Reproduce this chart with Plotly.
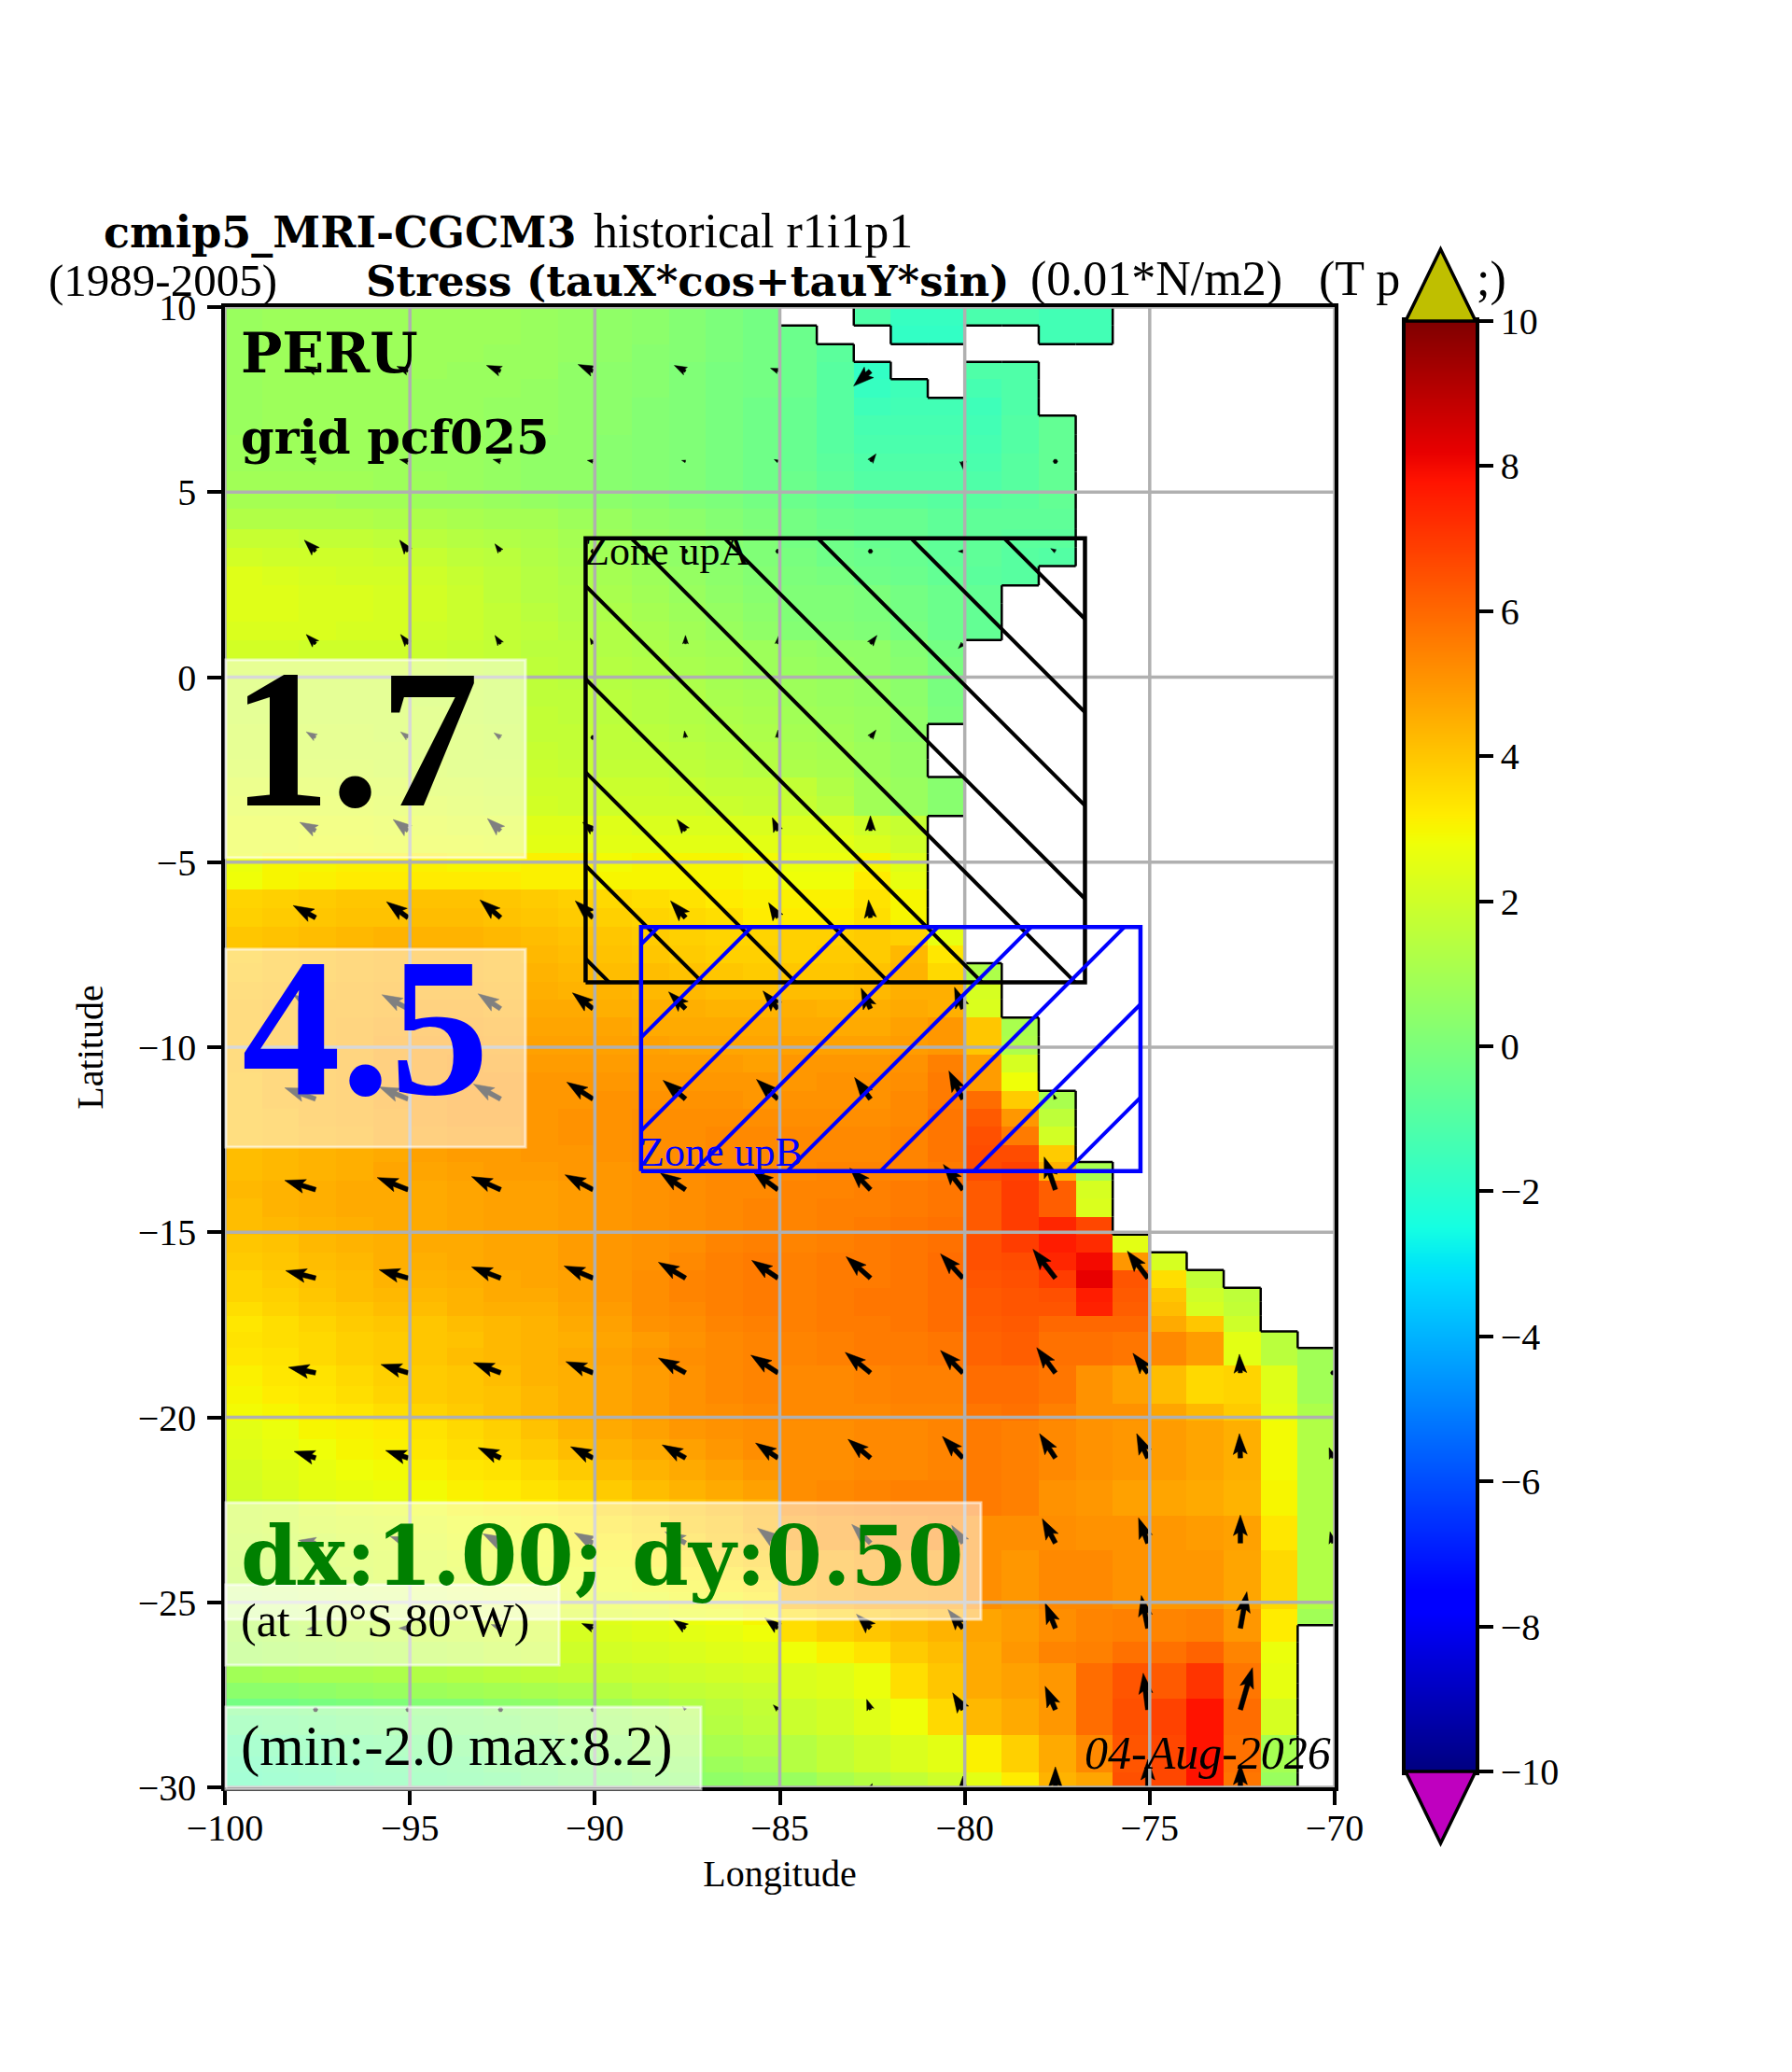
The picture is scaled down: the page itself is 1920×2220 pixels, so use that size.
import math
import numpy as np
import plotly.graph_objects as go

_ = None

# cell edges of the stress field
lon_edges = list(range(-100, -69))
lat_edges = [10, 9.5, 9.0, 8.52, 8.05, 7.55, 7.07, 6.55, 6.05, 5.55, 5.05, 4.55, 4.0, 3.5, 3.0,
             2.48, 2.0, 1.5, 1.0, 0.55, 0.1, -0.35, -0.8, -1.27, -1.75, -2.22, -2.7, -3.22, -3.75,
             -4.27, -4.76, -5.25, -5.74, -6.24, -6.74, -7.24, -7.73, -8.23, -8.71, -9.2, -9.7,
             -10.19, -10.68, -11.18, -11.67, -12.15, -12.65, -13.1, -13.6, -14.09, -14.58, -15.06,
             -15.54, -16.02, -16.5, -16.88, -17.26, -17.68, -18.13, -18.6, -19.15, -19.64, -20.1,
             -20.6, -21.15, -21.7, -22.2, -22.65, -23.15, -23.6, -24.05, -24.4, -24.72, -25.18,
             -25.62, -26.07, -26.65, -27.18, -27.6, -28.05, -28.6, -29.17, -29.6, -30]

# wind stress, 0.01 N/m2, north to south, None on land
stress = [
 [.7,.8,.8,.8,.8,.8,.8,.8,.7,.6,.5,.4,.2,.0,-.2,_,_,-1.1,-1.7,-1.7,-1.2,-1.2,-1.4,-1.4,_,_,_,_,_,_],
 [.7,.8,.8,.8,.8,.8,.8,.8,.7,.6,.5,.4,.2,.0,-.2,-.4,_,_,-1.8,-1.8,_,_,-1.4,-1.4,_,_,_,_,_,_],
 [.7,.8,.8,.8,.8,.8,.8,.7,.7,.6,.5,.3,.2,.0,-.2,-.4,-.8,_,_,_,_,_,_,_,_,_,_,_,_,_],
 [.7,.8,.8,.8,.8,.8,.7,.7,.7,.5,.4,.3,.1,-.1,-.2,-.4,-.9,-1.8,_,_,-1.1,-1.1,_,_,_,_,_,_,_,_],
 [.7,.8,.8,.8,.8,.7,.7,.7,.6,.5,.4,.3,.1,-.1,-.2,-.4,-.9,-1.7,-1.5,_,-1.3,-1.1,_,_,_,_,_,_,_,_],
 [.7,.8,.8,.8,.8,.7,.7,.6,.6,.5,.4,.2,.1,-.1,-.3,-.5,-.9,-1.5,-1.4,-1.4,-1.5,-1.1,_,_,_,_,_,_,_,_],
 [.7,.8,.8,.8,.8,.7,.7,.6,.6,.5,.4,.2,.1,-.1,-.3,-.5,-.9,-1.3,-1.3,-1.3,-1.4,-1.0,-.6,_,_,_,_,_,_,_],
 [.8,.8,.8,.8,.8,.7,.7,.6,.5,.5,.3,.2,.1,-.1,-.3,-.5,-.9,-1.2,-1.2,-1.2,-1.3,-1.0,-.6,_,_,_,_,_,_,_],
 [.8,.8,.8,.8,.8,.7,.7,.6,.5,.5,.3,.2,.1,-.1,-.3,-.5,-.8,-1.1,-1.1,-1.1,-1.2,-.9,-.6,_,_,_,_,_,_,_],
 [.9,.9,.9,.9,.8,.8,.7,.6,.5,.5,.3,.2,.1,-.1,-.3,-.4,-.7,-1.0,-1.0,-1.0,-1.1,-.9,-.6,_,_,_,_,_,_,_],
 [1.0,1.0,1.0,.9,.9,.8,.8,.7,.6,.5,.4,.3,.1,.0,-.2,-.4,-.6,-.8,-.8,-.9,-.9,-.8,-.6,_,_,_,_,_,_,_],
 [1.3,1.3,1.3,1.3,1.2,1.2,1.1,1.0,1.0,.8,.7,.5,.4,.2,.0,-.2,-.4,-.5,-.5,-.7,-.7,-.7,-.7,_,_,_,_,_,_,_],
 [1.8,1.8,1.7,1.7,1.6,1.5,1.4,1.3,1.2,1.0,.8,.6,.5,.3,.1,-.2,-.3,-.5,-.5,-.7,-.7,-.8,-.8,_,_,_,_,_,_,_],
 [2.1,2.0,2.0,2.0,1.9,1.8,1.6,1.5,1.3,1.1,.9,.7,.5,.3,.1,-.1,-.3,-.4,-.5,-.7,-.7,-.9,-1.0,_,_,_,_,_,_,_],
 [2.4,2.3,2.2,2.1,2.1,2.0,1.8,1.6,1.4,1.2,1.0,.8,.6,.4,.2,.0,-.1,-.3,-.4,-.6,-.8,-.9,_,_,_,_,_,_,_,_],
 [2.4,2.4,2.3,2.3,2.2,2.1,1.9,1.6,1.4,1.3,1.1,.9,.7,.5,.3,.1,.1,.0,-.2,-.4,-.6,_,_,_,_,_,_,_,_,_],
 [2.4,2.4,2.3,2.3,2.2,2.1,1.9,1.7,1.5,1.3,1.2,1.0,.8,.6,.4,.1,.1,.0,-.2,-.4,-.6,_,_,_,_,_,_,_,_,_],
 [2.3,2.3,2.3,2.2,2.2,2.0,1.9,1.7,1.6,1.4,1.3,1.1,.9,.7,.5,.2,.2,.1,-.1,-.4,-.6,_,_,_,_,_,_,_,_,_],
 [2.1,2.1,2.0,2.0,2.0,1.9,1.8,1.7,1.5,1.5,1.3,1.2,1.0,.9,.8,.6,.5,.5,.2,-.2,_,_,_,_,_,_,_,_,_,_],
 [2.0,2.0,2.0,2.0,2.0,1.9,1.8,1.7,1.6,1.5,1.4,1.3,1.1,1.0,.8,.7,.6,.5,.3,-.1,_,_,_,_,_,_,_,_,_,_],
 [1.9,1.9,1.9,1.9,1.9,1.8,1.8,1.7,1.6,1.5,1.4,1.3,1.2,1.0,.9,.8,.7,.6,.4,-.1,_,_,_,_,_,_,_,_,_,_],
 [1.9,1.9,1.9,1.9,1.9,1.8,1.8,1.7,1.6,1.6,1.5,1.4,1.3,1.1,1.0,.8,.7,.6,.4,-.1,_,_,_,_,_,_,_,_,_,_],
 [1.9,1.9,1.9,1.9,1.9,1.9,1.8,1.7,1.7,1.6,1.5,1.4,1.3,1.2,1.1,.9,.8,.7,.5,.0,_,_,_,_,_,_,_,_,_,_],
 [2.0,2.0,2.0,2.0,1.9,1.9,1.9,1.8,1.7,1.7,1.6,1.5,1.4,1.3,1.2,1.0,.9,.7,.5,_,_,_,_,_,_,_,_,_,_,_],
 [2.0,2.0,2.0,2.0,2.0,1.9,1.9,1.8,1.8,1.7,1.6,1.6,1.5,1.4,1.3,1.1,1.0,.8,.6,_,_,_,_,_,_,_,_,_,_,_],
 [2.1,2.1,2.1,2.1,2.0,2.0,1.9,1.9,1.9,1.8,1.7,1.7,1.6,1.5,1.4,1.2,1.1,.8,.6,_,_,_,_,_,_,_,_,_,_,_],
 [2.3,2.3,2.3,2.2,2.2,2.1,2.1,2.0,2.0,2.0,1.9,1.9,1.8,1.7,1.7,1.7,1.3,.9,.7,.3,_,_,_,_,_,_,_,_,_,_],
 [2.4,2.4,2.4,2.4,2.3,2.3,2.2,2.1,2.1,2.0,2.0,2.0,2.0,1.9,1.8,1.8,1.5,.9,.7,.3,_,_,_,_,_,_,_,_,_,_],
 [2.6,2.6,2.6,2.6,2.5,2.5,2.4,2.4,2.4,2.4,2.4,2.3,2.3,2.3,2.3,2.3,2.3,2.0,1.8,_,_,_,_,_,_,_,_,_,_,_],
 [2.6,2.6,2.7,2.7,2.6,2.6,2.6,2.5,2.5,2.5,2.5,2.5,2.5,2.5,2.5,2.5,2.5,2.3,2.0,_,_,_,_,_,_,_,_,_,_,_],
 [2.7,3.0,3.0,3.1,3.1,3.1,3.0,3.0,3.1,3.1,2.9,3.0,3.0,3.0,2.9,2.7,2.7,3.0,2.4,_,_,_,_,_,_,_,_,_,_,_],
 [2.8,3.0,3.1,3.2,3.2,3.2,3.2,3.2,3.1,3.1,3.0,3.0,3.0,3.0,2.9,2.8,2.8,3.2,2.6,_,_,_,_,_,_,_,_,_,_,_],
 [3.7,3.8,3.9,4.0,4.0,4.1,4.1,4.0,3.9,3.8,3.6,3.5,3.4,3.2,3.1,3.1,3.1,3.4,3.0,_,_,_,_,_,_,_,_,_,_,_],
 [3.8,3.9,4.0,4.1,4.1,4.2,4.2,4.1,4.0,3.9,3.8,3.7,3.6,3.5,3.2,3.2,3.2,3.5,3.0,_,_,_,_,_,_,_,_,_,_,_],
 [4.0,4.1,4.2,4.3,4.4,4.4,4.4,4.3,4.2,4.1,4.0,3.9,3.8,3.7,3.7,3.8,3.8,3.9,3.8,2.6,_,_,_,_,_,_,_,_,_,_],
 [4.0,4.2,4.3,4.4,4.5,4.5,4.5,4.4,4.3,4.2,4.1,4.0,3.9,3.8,3.8,3.8,3.9,3.9,4.3,3.3,_,_,_,_,_,_,_,_,_,_],
 [4.1,4.2,4.3,4.4,4.5,4.6,4.5,4.4,4.4,4.3,4.2,4.2,4.1,4.0,3.9,4.0,4.0,4.1,4.4,3.6,1.2,_,_,_,_,_,_,_,_,_],
 [4.2,4.3,4.4,4.5,4.6,4.6,4.6,4.5,4.5,4.4,4.4,4.3,4.3,4.2,4.2,4.2,4.2,4.3,4.5,4.5,2.2,_,_,_,_,_,_,_,_,_],
 [4.3,4.4,4.5,4.5,4.6,4.7,4.7,4.6,4.6,4.6,4.5,4.5,4.5,4.4,4.4,4.5,4.4,4.5,4.6,4.5,2.3,_,_,_,_,_,_,_,_,_],
 [4.3,4.4,4.5,4.6,4.7,4.8,4.8,4.7,4.7,4.7,4.7,4.6,4.6,4.6,4.6,4.6,4.6,4.6,4.8,5.0,4.0,1.1,_,_,_,_,_,_,_,_],
 [4.3,4.4,4.5,4.6,4.8,4.9,4.9,4.8,4.8,4.8,4.8,4.8,4.7,4.7,4.7,4.8,4.8,4.8,4.9,5.0,4.0,1.2,_,_,_,_,_,_,_,_],
 [4.3,4.4,4.5,4.6,4.8,4.9,5.0,4.9,4.9,4.9,4.9,4.9,4.9,4.9,4.8,5.0,5.0,5.0,5.1,5.5,4.9,2.2,_,_,_,_,_,_,_,_],
 [4.2,4.4,4.5,4.6,4.8,4.9,5.0,5.0,5.0,5.0,5.0,5.0,5.0,5.0,5.0,5.0,5.1,5.1,5.2,5.6,4.9,2.8,_,_,_,_,_,_,_,_],
 [4.2,4.4,4.5,4.6,4.8,4.9,5.0,5.0,5.0,5.0,5.1,5.1,5.1,5.1,5.0,5.1,5.1,5.1,5.3,5.6,5.9,3.9,1.1,_,_,_,_,_,_,_],
 [4.2,4.3,4.5,4.6,4.7,4.9,5.0,5.0,5.0,5.1,5.1,5.2,5.2,5.2,5.2,5.2,5.2,5.2,5.3,5.7,6.3,5.0,1.6,_,_,_,_,_,_,_],
 [4.2,4.3,4.4,4.5,4.7,4.8,4.9,4.9,5.0,5.1,5.1,5.2,5.2,5.3,5.3,5.3,5.3,5.3,5.4,5.7,6.5,5.6,2.1,_,_,_,_,_,_,_],
 [4.2,4.3,4.4,4.5,4.6,4.8,4.9,4.9,5.0,5.0,5.1,5.2,5.2,5.3,5.3,5.3,5.3,5.3,5.4,5.7,6.6,6.6,3.9,_,_,_,_,_,_,_],
 [4.2,4.3,4.4,4.5,4.7,4.7,4.8,4.9,4.9,5.0,5.0,5.1,5.2,5.3,5.3,5.3,5.4,5.4,5.4,5.6,6.6,6.8,4.4,1.1,_,_,_,_,_,_],
 [4.3,4.4,4.5,4.6,4.6,4.6,4.7,4.8,4.8,4.9,5.0,5.1,5.2,5.3,5.3,5.4,5.4,5.5,5.6,5.7,6.3,6.9,6.2,2.2,_,_,_,_,_,_],
 [4.2,4.4,4.5,4.6,4.6,4.6,4.7,4.8,4.8,4.9,5.0,5.1,5.2,5.3,5.4,5.4,5.5,5.5,5.6,5.7,6.3,6.9,6.2,2.3,_,_,_,_,_,_],
 [4.2,4.3,4.4,4.5,4.6,4.6,4.7,4.8,4.8,4.9,5.0,5.1,5.2,5.3,5.4,5.4,5.5,5.6,5.7,5.8,6.3,6.9,7.4,6.7,_,_,_,_,_,_],
 [4.0,4.1,4.3,4.4,4.5,4.6,4.6,4.7,4.7,4.9,5.0,5.1,5.2,5.4,5.5,5.4,5.5,5.6,5.7,5.8,6.5,6.9,7.6,7.3,2.5,_,_,_,_,_],
 [3.9,4.0,4.2,4.3,4.5,4.5,4.6,4.7,4.7,4.9,5.0,5.1,5.3,5.5,5.6,5.5,5.6,5.6,5.7,5.9,6.5,6.6,7.4,8.0,5.0,2.2,_,_,_,_],
 [3.7,3.9,4.1,4.2,4.4,4.4,4.5,4.6,4.7,4.8,5.0,5.2,5.4,5.5,5.6,5.5,5.6,5.6,5.7,5.9,6.4,6.5,6.9,8.2,6.4,3.5,1.7,_,_,_],
 [3.7,3.8,4.0,4.2,4.3,4.3,4.4,4.6,4.6,4.8,5.0,5.2,5.4,5.5,5.6,5.5,5.6,5.7,5.7,5.9,6.3,6.4,6.5,7.6,6.3,4.0,2.0,1.6,_,_],
 [3.5,3.7,3.9,4.0,4.2,4.2,4.4,4.5,4.5,4.7,4.9,5.2,5.3,5.5,5.6,5.5,5.6,5.7,5.7,5.9,6.3,6.4,6.4,7.5,6.2,4.2,2.2,1.7,_,_],
 [3.3,3.5,3.7,3.9,4.0,4.0,4.2,4.3,4.4,4.6,4.8,5.1,5.2,5.4,5.5,5.5,5.6,5.6,5.7,5.9,6.2,6.3,6.0,6.0,6.0,4.6,4.0,2.0,_,_],
 [3.4,3.5,3.6,3.8,3.9,4.0,4.1,4.3,4.4,4.5,4.7,4.9,5.1,5.3,5.4,5.4,5.5,5.6,5.6,5.7,6.1,6.2,5.8,5.8,5.7,5.3,4.9,2.5,1.5,_],
 [3.3,3.4,3.6,3.8,3.9,4.0,4.2,4.3,4.4,4.6,4.8,5.0,5.2,5.3,5.4,5.4,5.5,5.6,5.6,5.7,6.1,6.2,5.8,5.8,5.7,5.3,4.9,2.5,1.5,.9],
 [3.1,3.3,3.4,3.6,3.8,3.9,4.0,4.2,4.4,4.5,4.7,4.9,5.1,5.3,5.4,5.3,5.3,5.4,5.5,5.5,5.9,5.9,5.7,5.1,4.8,4.2,3.6,3.7,2.4,.9],
 [3.0,3.2,3.3,3.5,3.7,3.9,4.0,4.1,4.3,4.5,4.7,4.9,5.1,5.3,5.4,5.3,5.3,5.4,5.5,5.5,5.9,5.9,5.7,5.1,4.8,4.2,3.6,3.7,2.4,.9],
 [2.9,3.0,3.2,3.3,3.5,3.7,3.9,4.1,4.3,4.5,4.7,4.9,5.1,5.2,5.3,5.3,5.3,5.3,5.4,5.4,5.7,5.8,5.5,5.1,5.1,4.7,4.3,3.9,2.5,1.2],
 [2.5,2.7,3.0,3.1,3.2,3.4,3.6,3.8,4.1,4.4,4.6,4.8,5.0,5.1,5.2,5.2,5.2,5.3,5.3,5.4,5.6,5.5,5.3,5.1,5.0,4.9,4.7,4.5,2.9,1.3],
 [2.4,2.6,2.8,3.0,3.1,3.3,3.5,3.7,3.9,4.2,4.4,4.6,4.8,5.0,5.2,5.2,5.2,5.3,5.3,5.4,5.6,5.5,5.3,5.1,5.0,4.9,4.7,4.5,2.9,1.3],
 [2.2,2.4,2.6,2.8,2.9,3.1,3.3,3.4,3.6,3.9,4.2,4.4,4.6,4.8,5.0,5.2,5.2,5.3,5.3,5.4,5.6,5.5,5.3,5.1,5.0,4.9,4.7,4.5,2.9,1.3],
 [2.1,2.3,2.5,2.6,2.7,2.9,3.1,3.2,3.4,3.6,3.9,4.2,4.4,4.6,4.8,5.2,5.3,5.4,5.5,5.5,5.6,5.5,5.1,5.0,4.8,4.7,4.6,4.4,3.0,1.3],
 [1.9,2.0,2.3,2.5,2.6,2.8,3.0,3.1,3.2,3.4,3.7,3.9,4.1,4.3,4.5,5.2,5.3,5.4,5.5,5.5,5.6,5.5,5.1,5.0,4.8,4.7,4.6,4.4,3.0,1.3],
 [1.9,2.0,2.2,2.3,2.4,2.6,2.8,2.9,3.0,3.2,3.4,3.6,3.9,4.1,4.4,4.9,5.0,5.1,5.2,5.3,5.2,5.2,5.2,5.1,5.1,5.0,4.9,4.8,3.3,1.3],
 [1.8,1.9,2.0,2.2,2.3,2.5,2.7,2.8,2.9,3.1,3.2,3.5,3.7,4.0,4.2,4.9,5.0,5.1,5.2,5.3,5.2,5.2,5.2,5.1,5.1,5.0,4.9,4.8,3.3,1.3],
 [1.7,1.8,1.9,2.1,2.2,2.3,2.5,2.6,2.8,2.9,3.0,3.2,3.4,3.7,3.9,4.4,4.6,4.8,4.8,4.9,5.2,5.0,5.3,5.3,5.1,5.0,5.0,4.7,3.6,1.3],
 [1.6,1.7,1.9,2.0,2.2,2.3,2.4,2.5,2.7,2.8,2.9,3.0,3.2,3.4,3.7,4.4,4.6,4.8,4.8,4.9,5.2,5.0,5.3,5.3,5.1,5.0,5.0,4.7,3.6,1.3],
 [1.5,1.6,1.8,1.9,2.0,2.1,2.3,2.4,2.5,2.6,2.8,2.9,3.0,3.2,3.4,4.4,4.6,4.8,4.8,4.9,5.2,5.0,5.3,5.3,5.1,5.0,5.0,4.7,3.6,1.3],
 [1.4,1.5,1.7,1.8,1.9,2.0,2.2,2.3,2.4,2.5,2.6,2.7,2.9,3.0,3.2,4.4,4.6,4.8,4.8,4.9,5.2,5.0,5.3,5.3,5.1,5.0,5.0,4.7,3.6,1.3],
 [1.3,1.4,1.5,1.7,1.8,1.9,2.0,2.1,2.2,2.3,2.4,2.5,2.7,2.8,3.0,3.5,3.8,4.0,4.2,4.4,4.7,4.9,5.2,5.4,5.5,5.4,5.5,5.0,3.2,.9],
 [1.2,1.3,1.4,1.6,1.7,1.8,1.9,2.0,2.1,2.2,2.3,2.4,2.5,2.6,2.8,3.5,3.8,4.0,4.2,4.4,4.7,4.9,5.2,5.4,5.5,5.4,5.5,5.0,3.2,_],
 [1.0,1.1,1.2,1.3,1.4,1.5,1.6,1.8,1.9,2.0,2.1,2.2,2.3,2.4,2.5,2.8,3.1,3.4,3.9,4.2,4.6,5.0,5.4,5.5,5.8,5.8,6.1,5.4,2.7,_],
 [.9,1.0,1.1,1.1,1.2,1.3,1.4,1.5,1.6,1.7,1.8,1.9,2.0,2.1,2.2,2.3,2.4,2.7,3.5,4.0,4.6,4.8,5.0,5.9,6.4,6.3,7.1,5.7,2.6,_],
 [.4,.4,.5,.6,.7,.8,.9,1.0,1.1,1.2,1.4,1.6,1.7,1.8,1.9,2.3,2.4,2.7,3.5,4.0,4.6,4.8,5.0,5.9,6.4,6.3,7.1,5.7,2.6,_],
 [-.2,-.2,-.1,.0,.1,.2,.2,.4,.5,.7,.9,1.1,1.3,1.5,1.7,1.9,2.1,2.4,2.8,3.6,4.3,4.6,5.0,5.9,6.5,6.8,7.8,5.9,2.2,_],
 [-.5,-.4,-.3,-.2,-.1,.0,.1,.2,.4,.6,.8,1.0,1.2,1.4,1.6,1.9,2.1,2.4,2.8,3.6,4.3,4.6,5.0,5.9,6.5,6.8,7.8,5.9,2.2,_],
 [-.9,-.8,-.7,-.5,-.4,-.3,-.2,.0,.1,.3,.5,.7,.9,1.1,1.3,1.4,1.7,2.0,2.3,2.5,3.1,3.8,4.6,5.3,6.4,6.7,7.8,5.8,1.0,_],
 [-1.1,-1.0,-.9,-.7,-.6,-.5,-.4,-.2,-.1,.1,.3,.5,.6,.8,1.0,1.4,1.7,2.0,2.3,2.5,3.1,3.8,4.6,5.3,6.4,6.7,7.8,5.8,1.0,_],
 [-1.2,-1.1,-1.0,-.8,-.7,-.6,-.5,-.4,-.2,.0,.1,.3,.4,.5,.6,.7,1.1,1.4,1.7,2.0,2.5,3.2,4.4,4.7,6.5,6.7,7.8,5.7,.7,_],
]

# quiver tails and components
quiver_lon = [-97.55, -95.05, -92.55, -90.05, -87.55, -85.05, -82.55, -80.05, -77.55, -75.05, -72.55, -70.05]
quiver_lat = [8.27, 5.83, 3.4, 0.9, -1.63, -4.15, -6.5, -8.96, -11.4, -13.85, -16.24, -18.8, -21.1, -23.4, -25.7, -27.9, -30.0]
quiver_u = [
 [-12,-12,-15,-16,-12,-8,-18,_,_,_,_,_],
 [-11,-9,-8,-6,-4,-4,6,1,0,_,_,_],
 [-12,-9,-6,-2,0,0,0,-5,-5,_,_,_],
 [-10,-8,-6,-3,0,1,7,-5,_,_,_,_],
 [-10,-8,-7,-3,-1,0,6,_,_,_,_,_],
 [-17,-16,-14,-11,-9,-6,0,_,_,_,_,_],
 [-24,-23,-22,-19,-16,-10,-2,_,_,_,_,_],
 [-24,-28,-24,-22,-18,-16,-10,-9,_,_,_,_],
 [-33,-31,-29,-28,-24,-23,-17,-15,-2,_,_,_],
 [-33,-33,-31,-30,-27,-27,-22,-21,-12,_,_,_],
 [-32,-31,-31,-31,-29,-28,-26,-24,-24,-22,_,_],
 [-29,-29,-29,-29,-29,-29,-27,-24,-20,-16,-1,0],
 [-23,-24,-24,-24,-25,-24,-24,-22,-17,-12,-1,-4],
 [-18,-19,-19,-20,-22,-22,-20,-12,-14,-10,0,-3],
 [-9,-10,-10,-12,-13,-14,-15,-16,-11,-7,7,_],
 [2,0,0,0,-3,-5,-4,-11,-11,-5,13,_],
 [_,_,_,_,_,_,2,0,0,0,0,_],
]
quiver_v = [
 [5,5,6,7,6,3,-16,_,_,_,_,_],
 [3,2,2,1,1,2,8,-10,0,_,_,_],
 [12,12,8,2,0,0,0,0,3,_,_,_],
 [10,10,9,6,9,9,9,-5,_,_,_,_],
 [6,6,5,2,7,8,8,_,_,_,_,_],
 [9,12,13,9,12,14,16,_,_,_,_,_],
 [13,17,19,18,18,16,19,_,_,_,_,_],
 [15,15,16,17,18,19,22,23,_,_,_,_],
 [12,13,16,18,20,21,23,30,5,_,_,_],
 [10,13,14,16,18,20,23,27,35,_,_,_],
 [8,9,12,13,17,19,23,26,31,29,_,_],
 [6,9,11,12,16,19,22,24,27,21,20,0],
 [7,8,11,12,14,16,20,23,26,26,26,11],
 [3,7,10,11,12,16,20,19,26,27,30,12],
 [-1,0,4,5,9,11,15,20,27,35,39,_],
 [3,0,0,0,3,5,11,18,25,39,45,_],
 [_,_,_,_,_,_,4,12,22,30,25,_],
]

lon_ticks = [-100, -95, -90, -85, -80, -75, -70]
lat_ticks = [-30, -25, -20, -15, -10, -5, 0, 5, 10]
cbar_ticks = [-10, -8, -6, -4, -2, 0, 2, 4, 6, 8, 10]
cbar_levels = [-10 + i * 0.1 for i in range(201)]

zone_a = dict(lon=(-90.25, -76.75), lat=(-8.25, 3.75))
zone_b = dict(lon=(-88.75, -75.25), lat=(-13.35, -6.75))
hatch_a_first = -80.22
hatch_b_first = 76.49
hatch_step = 2.52

jet = [[0, "rgb(0,0,128)"], [.11, "rgb(0,0,255)"], [.125, "rgb(0,0,255)"], [.34, "rgb(0,219,255)"],
       [.35, "rgb(0,230,247)"], [.375, "rgb(21,255,226)"], [.64, "rgb(239,255,8)"], [.65, "rgb(247,246,0)"],
       [.66, "rgb(255,236,0)"], [.89, "rgb(255,19,0)"], [.91, "rgb(232,0,0)"], [1, "rgb(128,0,0)"]]

W, H = 1920, 2220
PAGE_MARGIN = 8  # the page body pushes the figure this far in
AX_L, AX_R, AX_T, AX_B = 241, 1430, 329, 1915
CB_L, CB_R, CB_T, CB_B = 1506, 1581, 344, 1898
PX_PER_DEG = (AX_R - AX_L) / 30.0
SERIF = "Liberation Serif"
BOLD = "DejaVu Serif"
TICK_SIZE = 40
AXIS_W = 3.5


def fx(px):
    return (px - PAGE_MARGIN) / W


def fy(px):
    return 1 - (px - PAGE_MARGIN) / H


def arrow_polygon(lon, lat, u, v):
    # same head proportions as a matplotlib quiver, short arrows shrink as a whole
    length = math.hypot(u, v)
    if length < 4:
        pts = [(2.5 * math.cos(a), 2.5 * math.sin(a)) for a in np.linspace(0, 2 * math.pi, 7)]
        return [lon + p[0] / PX_PER_DEG for p in pts], [lat + p[1] / PX_PER_DEG for p in pts]
    shaft, head_w, head_l, head_a = 5.0, 15.0, 22.0, 19.0
    k = min(1.0, length / head_l)
    along = [0, length - head_a * k, length - head_l * k, length,
             length - head_l * k, length - head_a * k, 0, 0]
    across = [shaft * k / 2, shaft * k / 2, head_w * k / 2, 0,
              -head_w * k / 2, -shaft * k / 2, -shaft * k / 2, shaft * k / 2]
    c, s = u / length, v / length
    xs = [lon + (a * c - b * s) / PX_PER_DEG for a, b in zip(along, across)]
    ys = [lat + (a * s + b * c) / PX_PER_DEG for a, b in zip(along, across)]
    return xs, ys


def hatch_lines(zone, first, sign):
    # 45 degree lines clipped to the zone box: lat = sign * lon + c
    x0, x1 = zone["lon"]
    y0, y1 = zone["lat"]
    xs, ys = [], []
    for k in range(-20, 21):
        c = first + k * hatch_step
        pts = []
        for x in (x0, x1):
            y = sign * x + c
            if y0 <= y <= y1:
                pts.append((x, y))
        for y in (y0, y1):
            x = (y - c) * sign
            if x0 <= x <= x1:
                pts.append((x, y))
        if len(pts) >= 2:
            pts.sort()
            xs += [pts[0][0], pts[-1][0], None]
            ys += [pts[0][1], pts[-1][1], None]
    return xs, ys


def box_line(zone):
    x0, x1 = zone["lon"]
    y0, y1 = zone["lat"]
    return [x0, x1, x1, x0, x0], [y0, y0, y1, y1, y0]


def line_trace(xs, ys, color, width):
    return go.Scatter(x=xs, y=ys, mode="lines", line=dict(color=color, width=width),
                      hoverinfo="skip", showlegend=False)


z = np.array(stress, dtype=float)
ocean = ~np.isnan(z)

fig = go.Figure()

# field, south to north for the heatmap
fig.add_trace(go.Heatmap(x=lon_edges, y=lat_edges[::-1], z=z[::-1].tolist(), colorscale=jet,
                         zmin=-10, zmax=10, showscale=False, zsmooth=False, hoverongaps=False))

# coast outline from the land mask
cx, cy = [], []
nrow, ncol = z.shape
for r in range(nrow):
    for c in range(ncol):
        if c + 1 < ncol and ocean[r, c] != ocean[r, c + 1]:
            cx += [lon_edges[c + 1], lon_edges[c + 1], None]
            cy += [lat_edges[r], lat_edges[r + 1], None]
        if r + 1 < nrow and ocean[r, c] != ocean[r + 1, c]:
            cx += [lon_edges[c], lon_edges[c + 1], None]
            cy += [lat_edges[r + 1], lat_edges[r + 1], None]
fig.add_trace(line_trace(cx, cy, "black", 2.5))

# quiver
ax, ay = [], []
for i, lat in enumerate(quiver_lat):
    for j, lon in enumerate(quiver_lon):
        if quiver_u[i][j] is None:
            continue
        xs, ys = arrow_polygon(lon, lat, quiver_u[i][j], quiver_v[i][j])
        ax += xs + [None]
        ay += ys + [None]
fig.add_trace(go.Scatter(x=ax, y=ay, mode="lines", fill="toself", fillcolor="black",
                         line=dict(color="black", width=0.5), hoverinfo="skip", showlegend=False))

# grid goes over the field, so it is drawn as a trace
gx, gy = [], []
for lon in lon_ticks:
    gx += [lon, lon, None]
    gy += [-30, 10, None]
for lat in lat_ticks:
    gx += [-100, -70, None]
    gy += [lat, lat, None]
fig.add_trace(line_trace(gx, gy, "#b0b0b0", 3.5))

# zones
hx, hy = hatch_lines(zone_a, hatch_a_first, -1)
fig.add_trace(line_trace(hx, hy, "black", 4))
bx, by = box_line(zone_a)
fig.add_trace(line_trace(bx, by, "black", 4.5))
hx, hy = hatch_lines(zone_b, hatch_b_first, 1)
fig.add_trace(line_trace(hx, hy, "blue", 4))
bx, by = box_line(zone_b)
fig.add_trace(line_trace(bx, by, "blue", 4.5))

# colour bar
fig.add_trace(go.Heatmap(x=[0, 1], y=cbar_levels, z=[[v, v] for v in cbar_levels], colorscale=jet,
                         zmin=-10, zmax=10, showscale=False, zsmooth="best", hoverinfo="skip",
                         xaxis="x2", yaxis="y2"))

shapes = []
# colour bar extensions
cb_mid = (CB_L + CB_R) / 2
for tip, base, color in [(267, CB_T, "#bfbf00"), (1975, CB_B, "#bf00bf")]:
    path = f"M {fx(CB_L)} {fy(base)} L {fx(cb_mid)} {fy(tip)} L {fx(CB_R)} {fy(base)} Z"
    shapes.append(dict(type="path", path=path, xref="paper", yref="paper", fillcolor=color,
                       line=dict(color="black", width=AXIS_W), layer="above"))

# translucent text boxes: left, top, right, bottom in page pixels
for l, t, r, b in [(242, 707, 563, 919), (242, 1017, 563, 1229), (242, 1610, 1051, 1735),
                   (242, 1698, 599, 1784), (242, 1829, 751, 1917)]:
    shapes.append(dict(type="rect", xref="paper", yref="paper", x0=fx(l), x1=fx(r), y0=fy(b), y1=fy(t),
                       fillcolor="rgba(255,255,255,0.5)", line=dict(color="rgba(255,255,255,0.6)", width=3),
                       layer="above"))

annotations = []


def label(x, baseline, text, size, color="black", anchor="left", family=SERIF):
    descent = 0.236 if family == BOLD else 0.216
    annotations.append(dict(x=fx(x), y=fy(baseline + descent * size + 1), xref="paper", yref="paper",
                            xanchor=anchor, yanchor="bottom", text=text, showarrow=False,
                            font=dict(family=family, size=size, color=color)))


label(109, 266, "<b>cmip5_MRI-CGCM3</b>", 46, family=BOLD)
label(634, 266, "historical r1i1p1", 52)
label(50, 318, "(1989-2005)", 49)
label(390, 318, "<b>Stress (tauX*cos+tauY*sin)</b>", 45, family=BOLD)
label(1102, 318, "(0.01*N/m2)", 52)
label(1411, 318, "(T p", 52)
label(1580, 318, ";)", 52)
label(256, 400, "<b>PERU</b>", 59, family=BOLD)
label(256, 487, "<b>grid pcf025</b>", 51, family=BOLD)
label(246, 864, "<b>1.7</b>", 212)
label(257, 1173, "<b>4.5</b>", 212, color="blue")
label(256, 1699, "<b>dx:1.00; dy:0.50</b>", 87, color="green", family=BOLD)
label(256, 1754, "(at 10°S 80°W)", 50)
label(256, 1893, "(min:-2.0 max:8.2)", 61)
label(1428, 1896, "<i>04-Aug-2026</i>", 50, anchor="right")
label(624, 606, "Zone upA", 44)
label(683, 1250, "Zone upB", 44, color="blue")

fig.update_layout(
    width=W, height=H, autosize=False, margin=dict(l=0, r=0, t=0, b=0),
    paper_bgcolor="white", plot_bgcolor="white", font=dict(family=SERIF, size=TICK_SIZE, color="black"),
    shapes=shapes, annotations=annotations, showlegend=False,
    xaxis=dict(domain=[fx(AX_L), fx(AX_R)], range=[-100, -70], tickvals=lon_ticks, showgrid=False, zeroline=False,
               ticks="outside", ticklen=15, tickwidth=AXIS_W, tickcolor="black", showline=True, linewidth=AXIS_W,
               linecolor="black", mirror=True, ticklabelstandoff=-10, tickfont=dict(size=TICK_SIZE), automargin=False,
               title=dict(text="Longitude", font=dict(size=TICK_SIZE), standoff=14)),
    yaxis=dict(domain=[fy(AX_B), fy(AX_T)], range=[-30, 10], tickvals=lat_ticks, showgrid=False, zeroline=False,
               ticks="outside", ticklen=15, tickwidth=AXIS_W, tickcolor="black", showline=True, linewidth=AXIS_W,
               linecolor="black", mirror=True, ticklabelstandoff=4, tickfont=dict(size=TICK_SIZE), automargin=False,
               title=dict(text="Latitude", font=dict(size=TICK_SIZE), standoff=26)),
    xaxis2=dict(domain=[fx(CB_L), fx(CB_R)], range=[0, 1], anchor="y2", showticklabels=False, ticks="", automargin=False,
                showgrid=False, zeroline=False, showline=True, linewidth=AXIS_W, linecolor="black", mirror=True),
    yaxis2=dict(domain=[fy(CB_B), fy(CB_T)], range=[-10, 10], anchor="x2", side="right", tickvals=cbar_ticks,
                showgrid=False, zeroline=False, ticks="outside", ticklen=15, tickwidth=AXIS_W, tickcolor="black",
                showline=True, linewidth=AXIS_W, linecolor="black", mirror=True, ticklabelstandoff=0, automargin=False,
                tickfont=dict(size=TICK_SIZE)),
)

fig.write_html("out.html")
